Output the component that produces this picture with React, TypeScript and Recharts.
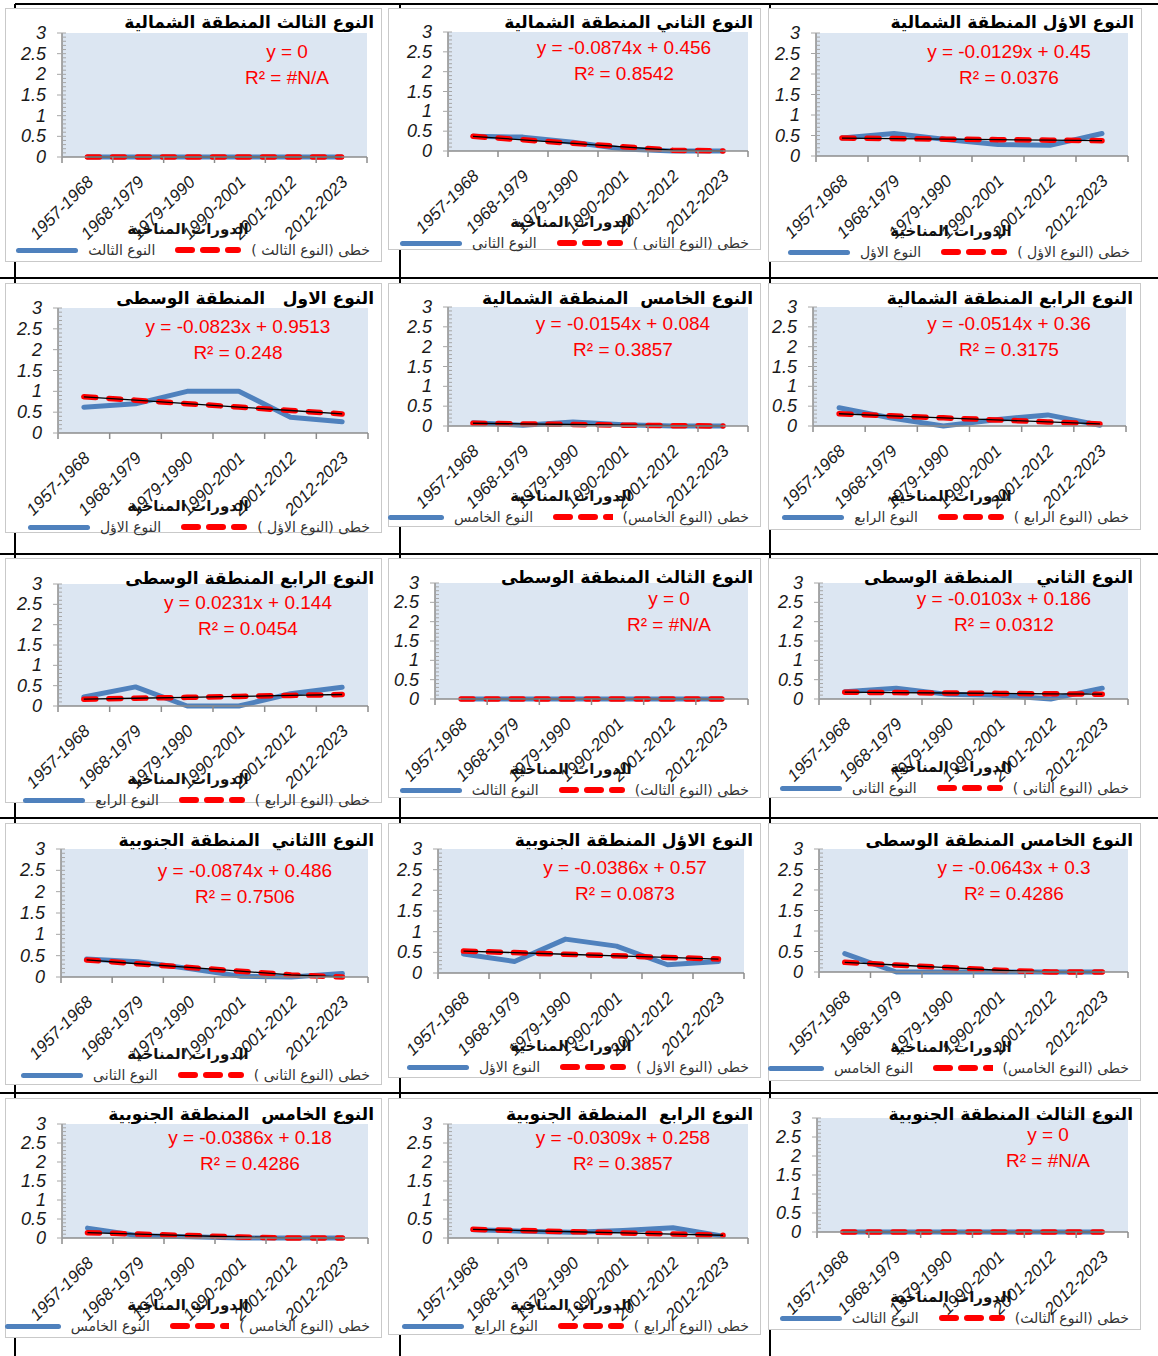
import { LineChart, Line, XAxis, YAxis, CartesianGrid } from 'recharts';

const periods = ['1957-1968', '1968-1979', '1979-1990', '1990-2001', '2001-2012', '2012-2023'];
const axisTitle = 'الدورات المناخية';

// observed values and linear trend per type / region
const north3Observed = [0, 0, 0, 0, 0, 0];
const north3Trend = [0, 0, 0, 0, 0, 0];
const north2Observed = [0.37, 0.35, 0.22, 0.05, 0, 0];
const north2Trend = [0.369, 0.281, 0.194, 0.106, 0.019, 0];
const north1Observed = [0.44, 0.55, 0.4, 0.28, 0.26, 0.55];
const north1Trend = [0.437, 0.424, 0.411, 0.398, 0.386, 0.373];
const middle1Observed = [0.62, 0.7, 1, 1, 0.38, 0.27];
const middle1Trend = [0.869, 0.787, 0.704, 0.622, 0.54, 0.457];
const north5Observed = [0.08, 0.02, 0.1, 0.03, 0, 0];
const north5Trend = [0.069, 0.053, 0.038, 0.022, 0.007, 0];
const north4Observed = [0.46, 0.2, 0, 0.16, 0.28, 0.02];
const north4Trend = [0.309, 0.257, 0.206, 0.154, 0.103, 0.052];
const middle4Observed = [0.22, 0.47, 0, 0, 0.3, 0.46];
const middle4Trend = [0.167, 0.19, 0.213, 0.236, 0.26, 0.283];
const middle3Observed = [0, 0, 0, 0, 0, 0];
const middle3Trend = [0, 0, 0, 0, 0, 0];
const middle2Observed = [0.19, 0.28, 0.12, 0.1, 0, 0.28];
const middle2Trend = [0.176, 0.165, 0.155, 0.145, 0.135, 0.124];
const south2Observed = [0.42, 0.36, 0.2, 0.02, 0, 0.08];
const south2Trend = [0.399, 0.311, 0.224, 0.136, 0.049, 0];
const south1Observed = [0.46, 0.28, 0.82, 0.65, 0.2, 0.28];
const south1Trend = [0.531, 0.493, 0.454, 0.416, 0.377, 0.338];
const middle5Observed = [0.45, 0, 0, 0, 0, 0];
const middle5Trend = [0.236, 0.171, 0.107, 0.043, 0, 0];
const south5Observed = [0.26, 0.06, 0.03, 0, 0, 0];
const south5Trend = [0.141, 0.103, 0.064, 0.026, 0, 0];
const south4Observed = [0.22, 0.18, 0.15, 0.2, 0.27, 0.05];
const south4Trend = [0.227, 0.196, 0.165, 0.134, 0.104, 0.073];
const south3Observed = [0, 0, 0, 0, 0, 0];
const south3Trend = [0, 0, 0, 0, 0, 0];

const panels = [
  { title: 'النوع الثالث المنطقة الشمالية', eq: 'y = 0', r2: 'R² = #N/A', values: north3Observed, trend: north3Trend, name: 'النوع الثالث', trendName: 'خطى (النوع الثالث )' },
  { title: 'النوع الثاني المنطقة الشمالية', eq: 'y = -0.0874x + 0.456', r2: 'R² = 0.8542', values: north2Observed, trend: north2Trend, name: 'النوع الثانى', trendName: 'خطى (النوع الثانى )' },
  { title: 'النوع الاؤل المنطقة الشمالية', eq: 'y = -0.0129x + 0.45', r2: 'R² = 0.0376', values: north1Observed, trend: north1Trend, name: 'النوع الاؤل', trendName: 'خطى (النوع الاؤل )' },
  { title: 'النوع الاول   المنطقة الوسطى', eq: 'y = -0.0823x + 0.9513', r2: 'R² = 0.248', values: middle1Observed, trend: middle1Trend, name: 'النوع الاؤل', trendName: 'خطى (النوع الاؤل )' },
  { title: 'النوع الخامس  المنطقة الشمالية', eq: 'y = -0.0154x + 0.084', r2: 'R² = 0.3857', values: north5Observed, trend: north5Trend, name: 'النوع الخامس', trendName: 'خطى (النوع الخامس)' },
  { title: 'النوع الرابع المنطقة الشمالية', eq: 'y = -0.0514x + 0.36', r2: 'R² = 0.3175', values: north4Observed, trend: north4Trend, name: 'النوع الرابع', trendName: 'خطى (النوع الرابع )' },
  { title: 'النوع الرابع المنطقة الوسطى', eq: 'y = 0.0231x + 0.144', r2: 'R² = 0.0454', values: middle4Observed, trend: middle4Trend, name: 'النوع الرابع', trendName: 'خطى (النوع الرابع )' },
  { title: 'النوع الثالث المنطقة الوسطى', eq: 'y = 0', r2: 'R² = #N/A', values: middle3Observed, trend: middle3Trend, name: 'النوع الثالث', trendName: 'خطى (النوع الثالث)' },
  { title: 'النوع الثاني    المنطقة الوسطى', eq: 'y = -0.0103x + 0.186', r2: 'R² = 0.0312', values: middle2Observed, trend: middle2Trend, name: 'النوع الثانى', trendName: 'خطى (النوع الثانى )' },
  { title: 'النوع االثاني  المنطقة الجنوبية', eq: 'y = -0.0874x + 0.486', r2: 'R² = 0.7506', values: south2Observed, trend: south2Trend, name: 'النوع الثانى', trendName: 'خطى (النوع الثانى )' },
  { title: 'النوع الاؤل المنطقة الجنوبية', eq: 'y = -0.0386x + 0.57', r2: 'R² = 0.0873', values: south1Observed, trend: south1Trend, name: 'النوع الاؤل', trendName: 'خطى (النوع الاؤل )' },
  { title: 'النوع الخامس المنطقة الوسطى', eq: 'y = -0.0643x + 0.3', r2: 'R² = 0.4286', values: middle5Observed, trend: middle5Trend, name: 'النوع الخامس', trendName: 'خطى (النوع الخامس)' },
  { title: 'النوع الخامس  المنطقة الجنوبية', eq: 'y = -0.0386x + 0.18', r2: 'R² = 0.4286', values: south5Observed, trend: south5Trend, name: 'النوع الخامس', trendName: 'خطى (النوع الخامس )' },
  { title: 'النوع الرابع  المنطقة الجنوبية', eq: 'y = -0.0309x + 0.258', r2: 'R² = 0.3857', values: south4Observed, trend: south4Trend, name: 'النوع الرابع', trendName: 'خطى (النوع الرابع )' },
  { title: 'النوع الثالث المنطقة الجنوبية', eq: 'y = 0', r2: 'R² = #N/A', values: south3Observed, trend: south3Trend, name: 'النوع الثالث', trendName: 'خطى (النوع الثالث)' },
];

// page geometry: box [x, y, w, h], plot [left, top, right, bottom], equation centre, title / legend rows
const layout = [
  { box: [5, 8, 377, 254], plot: [62, 33, 367, 157], eq: [287, 52], titleY: 22, legendY: 250 },
  { box: [388, 8, 373, 242], plot: [448, 32, 748, 151], eq: [624, 48], titleY: 22, legendY: 243 },
  { box: [768, 8, 374, 254], plot: [816, 33, 1128, 156], eq: [1009, 52], titleY: 22, legendY: 252 },
  { box: [5, 283, 377, 250], plot: [58, 308, 368, 433], eq: [238, 327], titleY: 298, legendY: 527 },
  { box: [388, 283, 373, 244], plot: [448, 307, 748, 426], eq: [623, 324], titleY: 298, legendY: 517 },
  { box: [768, 283, 373, 247], plot: [813, 307, 1126, 426], eq: [1009, 324], titleY: 298, legendY: 517 },
  { box: [5, 558, 377, 245], plot: [58, 584, 368, 706], eq: [248, 603], titleY: 578, legendY: 800 },
  { box: [388, 558, 373, 240], plot: [435, 583, 748, 699], eq: [669, 599], titleY: 577, legendY: 790 },
  { box: [768, 558, 373, 240], plot: [819, 583, 1128, 699], eq: [1004, 599], titleY: 577, legendY: 788 },
  { box: [5, 823, 377, 262], plot: [61, 849, 368, 977], eq: [245, 871], titleY: 840, legendY: 1075 },
  { box: [388, 823, 373, 255], plot: [438, 849, 744, 973], eq: [625, 868], titleY: 840, legendY: 1067 },
  { box: [768, 823, 373, 258], plot: [819, 849, 1128, 972], eq: [1014, 868], titleY: 840, legendY: 1068 },
  { box: [5, 1098, 377, 240], plot: [62, 1124, 368, 1238], eq: [250, 1138], titleY: 1114, legendY: 1326 },
  { box: [388, 1098, 373, 237], plot: [448, 1124, 748, 1238], eq: [623, 1138], titleY: 1114, legendY: 1326 },
  { box: [768, 1098, 373, 232], plot: [817, 1118, 1128, 1232], eq: [1048, 1135], titleY: 1114, legendY: 1318 },
];

const X_TICKS = [0.5, 1, 1.5, 2, 2.5, 3, 3.5, 4, 4.5, 5, 5.5, 6, 6.5];
const Y_TICKS = Array.from({ length: 31 }, (_, i) => i / 10);
const AXIS_GREY = '#8c8c8c';
const ARABIC = '"DejaVu Sans", sans-serif';
const LATIN = '"Liberation Sans", Arial, sans-serif';

function XTick(props: any) {
  const { x, y, payload } = props;
  const v = payload.value;
  if (Number.isInteger(v)) {
    const ax = x + 7;
    const ay = y + 26;
    return (
      <text x={ax} y={ay} transform={`rotate(-45 ${ax} ${ay})`} textAnchor="end" fontSize={17} fontFamily={LATIN} fill="#1a1a1a" style={{ fontStyle: 'italic' }}>
        {periods[v - 1]}
      </text>
    );
  }
  return <line x1={x} x2={x} y1={y} y2={y + 6} stroke={AXIS_GREY} strokeWidth={1.5} />;
}

function YTick(props: any) {
  const { x, y, payload } = props;
  const i = Math.round(payload.value * 10);
  const major = i % 5 === 0;
  return (
    <g>
      <line x1={major ? x - 5 : x} x2={x + 4} y1={y} y2={y} stroke="#a6a6a6" strokeWidth={1} />
      {major && (
        <text x={x - 16} y={y} dy={6} textAnchor="end" fontSize={18} fontFamily={LATIN} fill="#1a1a1a" style={{ fontStyle: 'italic' }}>
          {String(i / 10)}
        </text>
      )}
    </g>
  );
}

function Panel({ panel, geo }: { panel: (typeof panels)[number]; geo: (typeof layout)[number] }) {
  const [bx, by, bw, bh] = geo.box;
  const [pl, pt, pr, pb] = geo.plot;
  const data = periods.map((p, i) => ({ x: i + 1, period: p, value: panel.values[i], trend: panel.trend[i] }));

  return (
    <>
      <div style={{ position: 'absolute', left: bx, top: by, width: bw, height: bh, background: '#fff', border: '1.5px solid #c9c9c9', boxSizing: 'border-box' }} />
      <div style={{ position: 'absolute', left: bx, top: by }}>
        <LineChart width={bw} height={bh} data={data} margin={{ top: pt - by, right: bx + bw - pr, left: 0, bottom: 0 }}>
          <CartesianGrid horizontal={false} vertical={false} fill="#dce6f2" />
          <XAxis
            dataKey="x"
            type="number"
            domain={[0.5, 6.5]}
            ticks={X_TICKS}
            interval={0}
            height={by + bh - pb}
            tickSize={0}
            tickMargin={0}
            tickLine={false}
            tick={<XTick />}
            axisLine={{ stroke: AXIS_GREY, strokeWidth: 1.5 }}
          />
          <YAxis
            type="number"
            domain={[0, 3]}
            ticks={Y_TICKS}
            interval={0}
            width={pl - bx}
            tickSize={0}
            tickMargin={0}
            tickLine={false}
            tick={<YTick />}
            axisLine={{ stroke: AXIS_GREY, strokeWidth: 1.5 }}
          />
          <Line dataKey="value" stroke="#4f81bd" strokeWidth={5} strokeLinejoin="round" strokeLinecap="round" dot={false} isAnimationActive={false} />
          <Line dataKey="trend" stroke="#ff0000" strokeWidth={5.5} strokeDasharray="12 13" strokeLinecap="round" dot={false} isAnimationActive={false} />
          <Line dataKey="trend" stroke="#000" strokeWidth={1.3} dot={false} isAnimationActive={false} />
        </LineChart>
      </div>
      <div dir="rtl" style={{ position: 'absolute', left: bx, width: bw - 8, top: geo.titleY - 12, textAlign: 'right', fontFamily: ARABIC, fontWeight: 'bold', fontSize: 17, lineHeight: '24px', color: '#000', whiteSpace: 'pre' }}>
        {panel.title}
      </div>
      <div style={{ position: 'absolute', left: geo.eq[0] - 150, width: 300, top: geo.eq[1] - 13, textAlign: 'center', fontFamily: LATIN, fontSize: 19, lineHeight: '26px', color: '#ff0000' }}>
        <div>{panel.eq}</div>
        <div>{panel.r2}</div>
      </div>
      <div dir="rtl" style={{ position: 'absolute', left: bx + 183 - 80, width: 160, top: geo.legendY - 32, textAlign: 'center', fontFamily: ARABIC, fontWeight: 'bold', fontSize: 15, lineHeight: '22px', color: '#111' }}>
        {axisTitle}
      </div>
      <div style={{ position: 'absolute', left: bx, width: bw - 12, top: geo.legendY - 10, height: 20, display: 'flex', justifyContent: 'flex-end', alignItems: 'center' }}>
        <div style={{ width: 62, height: 5, borderRadius: 3, background: '#4f81bd' }} />
        <div dir="rtl" style={{ marginLeft: 10, fontFamily: ARABIC, fontSize: 14, color: '#333', whiteSpace: 'pre' }}>{panel.name}</div>
        <svg width={66} height={8} style={{ marginLeft: 20 }}>
          <line x1={3} x2={63} y1={4} y2={4} stroke="#ff0000" strokeWidth={6} strokeDasharray="14 11" strokeLinecap="round" />
        </svg>
        <div dir="rtl" style={{ marginLeft: 10, fontFamily: ARABIC, fontSize: 14, color: '#333', whiteSpace: 'pre' }}>{panel.trendName}</div>
      </div>
    </>
  );
}

export default function App() {
  return (
    <div style={{ position: 'absolute', left: 0, top: 0, width: 1158, height: 1356, background: '#fff', overflow: 'hidden' }}>
      <svg width={1158} height={1356} style={{ position: 'absolute', left: 0, top: 0 }}>
        {[4, 278, 554, 818, 1093].map((y) => (
          <line key={y} x1={y === 4 ? 15 : 0} x2={1158} y1={y} y2={y} stroke="#000" strokeWidth={2} />
        ))}
        {[15, 400, 770].map((x) => (
          <line key={x} x1={x} x2={x} y1={4} y2={1356} stroke="#000" strokeWidth={2} />
        ))}
      </svg>
      {panels.map((p, i) => (
        <Panel key={i} panel={p} geo={layout[i]} />
      ))}
    </div>
  );
}
